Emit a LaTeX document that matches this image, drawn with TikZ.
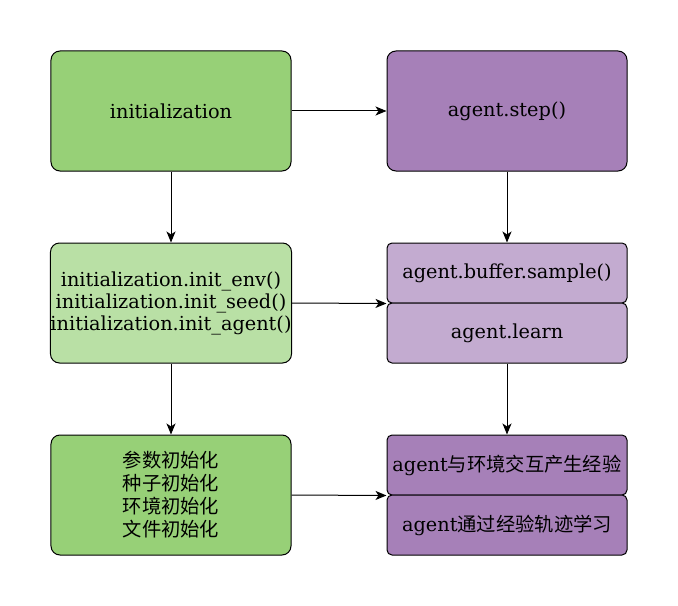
\documentclass[tikz,border=0pt]{standalone}
\usepackage{fontspec}
\setmainfont{DejaVu Serif}
\newfontfamily\cjk{Noto Sans CJK SC}
\usetikzlibrary{arrows.meta}
\definecolor{initgreen}{HTML}{97D077}
\definecolor{lightgreen}{HTML}{B9E0A5}
\definecolor{agentpurple}{HTML}{A680B8}
\definecolor{lightpurple}{HTML}{C3ABD0}
\begin{document}
\begin{tikzpicture}[x=1bp,y=-1bp,
  box/.style={draw,rounded corners=9bp,line width=1bp,minimum width=240bp,minimum height=120bp,
    align=center,inner sep=0pt,font=\fontsize{19.3bp}{22bp}\selectfont},
  halfbox/.style={box,rounded corners=5bp,minimum height=60bp},
  flow/.style={-{Stealth[length=11bp,width=9bp,inset=3bp]},line width=1bp}]
\useasboundingbox(0,0)rectangle(678,606);
% left column
\node[box,fill=initgreen](init)at(171,111){initialization};
\node[box,fill=lightgreen,text depth=3bp](initsub)at(171,303){initialization.init\_env()\\initialization.init\_seed()\\initialization.init\_agent()};
\node[box,fill=initgreen,font=\cjk\fontsize{19.3bp}{23bp}\selectfont](cninit)at(171,495){参数初始化\\种子初始化\\环境初始化\\文件初始化};
% right column
\node[box,fill=agentpurple](step)at(507,111){agent.step()};
\node[halfbox,fill=lightpurple](sample)at(507,273){agent.buffer.sample()};
\node[halfbox,fill=lightpurple](learn)at(507,333){agent.learn};
\node[halfbox,fill=agentpurple](interact)at(507,465){agent{\cjk 与环境交互产生经验}};
\node[halfbox,fill=agentpurple](traj)at(507,525){agent{\cjk 通过经验轨迹学习}};
% arrows
\draw[flow](init)--(initsub);
\draw[flow](initsub)--(cninit);
\draw[flow](init)--(step);
\draw[flow](initsub.east)--(sample.south west);
\draw[flow](cninit.east)--(interact.south west);
\draw[flow](step)--(sample);
\draw[flow](learn)--(interact);
\end{tikzpicture}
\end{document}
